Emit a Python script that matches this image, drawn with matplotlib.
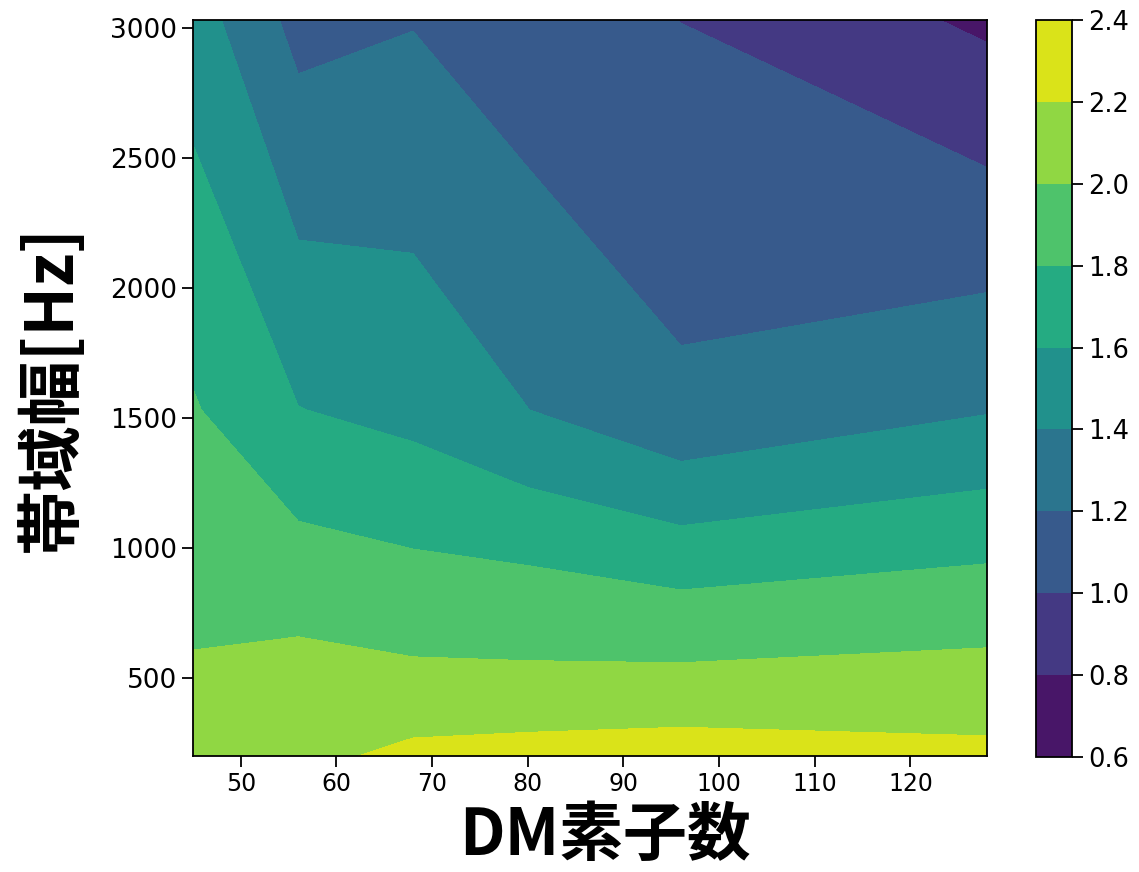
import numpy as np
import matplotlib
matplotlib.use('Agg')
import matplotlib.pyplot as plt

# number of DM actuators (x) and control bandwidth in Hz (y)
dm_elements = [45, 56, 68, 80, 96, 128]
bandwidth = [200, 400, 800, 1530, 3030]

# residual values on the grid, one row per bandwidth
z_200 = [2.081, 2.134, 2.26, 2.30, 2.31, 2.25]
z_400 = [2.041, 2.113, 2.087, 2.080, 2.111, 2.121]
z_800 = [1.962, 1.938, 1.895, 1.888, 1.831, 1.897]
z_1530 = [1.817, 1.605, 1.541, 1.402, 1.24, 1.388]
z_3030 = [1.498, 1.135, 1.19, 1.077, 0.998, 0.764]

levels = [0.6, 0.8, 1.0, 1.2, 1.4, 1.6, 1.8, 2.0, 2.2, 2.4]

X, Y = np.meshgrid(dm_elements, bandwidth)
Z = np.array([z_200, z_400, z_800, z_1530, z_3030])

fig = plt.figure(figsize=(11.39, 8.72), dpi=100)
ax = fig.add_axes([193/1139, 116/872, 794/1139, 736/872])
cax = fig.add_axes([1036/1139, 115/872, 36/1139, 737/872])

cs = ax.contourf(X, Y, Z, levels=levels, cmap='viridis')
cb = fig.colorbar(cs, cax=cax)

ax.set_yticks([500, 1000, 1500, 2000, 2500, 3000])
ax.set_xticks([50, 60, 70, 80, 90, 100, 110, 120])
ax.tick_params(axis='x', labelsize=17, length=8, width=1.3)
ax.tick_params(axis='y', labelsize=19, length=8, width=1.3)
cb.ax.tick_params(labelsize=18.5, length=8, width=1.3)
for a in (ax, cax):
    for s in a.spines.values():
        s.set_linewidth(1.3)
cb.outline.set_linewidth(1.3)

jp = ['Noto Sans CJK JP', 'DejaVu Sans']
ax.set_xlabel('DM素子数', family=jp, fontsize=46, fontweight='bold')
ax.set_ylabel('帯域幅[Hz]', family=jp, fontsize=47, fontweight='bold')
ax.xaxis.set_label_coords(0.519, -0.064)
ax.yaxis.set_label_coords(-0.136, 0.5)

fig.savefig('out.png', dpi=100)
